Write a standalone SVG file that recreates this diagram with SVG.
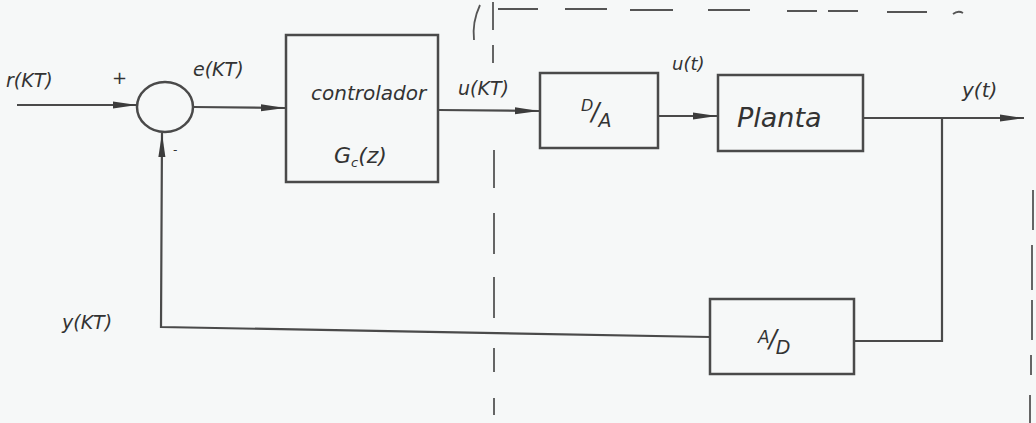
<svg xmlns="http://www.w3.org/2000/svg" width="1036" height="423" viewBox="0 0 1036 423">
<style>
.bg{fill:#f6f8f8}
.box{fill:none;stroke:#4a4a4a;stroke-width:2.5}
.ln{fill:none;stroke:#4a4a4a;stroke-width:2.2}
.dash{fill:none;stroke:#555;stroke-width:1.8}
.t{font-family:"DejaVu Sans",sans-serif;font-style:italic;fill:#333;font-weight:300}
</style>
<defs>
<marker id="ah" viewBox="0 0 24 10" refX="24" refY="5" markerWidth="24" markerHeight="10" markerUnits="userSpaceOnUse" orient="auto">
<path d="M0,1.5 L24,5 L0,8.5 Z" fill="#3c3c3c"/>
</marker>
</defs>
<rect class="bg" x="0" y="0" width="1036" height="423"/>
<g id="boundary">
<path class="dash" d="M493,2 V30 M493,45 V63 M494,150 V188 M494,213 V254 M494,277 V318 M494,348 V372 M494,398 V415"/>
<path class="dash" d="M498,9 H538 M565,9 H607 M630,10 H673 M708,10 H750 M787,11 H817 M828,11 H858 M887,12 H927 M953,14 Q958,10 963,13"/>
<path class="dash" d="M480,5 Q472,22 474,40"/>
<path class="dash" d="M1033,190 V230 M1032,245 V290 M1032,300 V340 M1031,355 V375 M1030,395 V423"/>
</g>
<g id="connectors">
<line class="ln" x1="17" y1="105" x2="137" y2="105" marker-end="url(#ah)"/>
<line class="ln" x1="193" y1="107" x2="285" y2="108" marker-end="url(#ah)"/>
<line class="ln" x1="438" y1="110" x2="539" y2="111" marker-end="url(#ah)"/>
<line class="ln" x1="658" y1="116" x2="717" y2="116" marker-end="url(#ah)"/>
<line class="ln" x1="863" y1="118" x2="1024" y2="118" marker-end="url(#ah)"/>
<polyline class="ln" points="942,118 942,341 855,341"/>
<polyline class="ln" points="710,337 161,327 162,133" marker-end="url(#ah)"/>
</g>
<g id="sum">
<ellipse class="box" cx="165" cy="107" rx="28" ry="25"/>
<text class="t" x="112" y="84" font-size="18">+</text>
<text class="t" x="173" y="154" font-size="12">-</text>
</g>
<g id="controlador">
<rect class="box" x="286" y="35" width="152" height="147"/>
<text class="t" x="311" y="100" font-size="20">controlador</text>
<text class="t" x="334" y="163" font-size="22">G<tspan font-size="13" dy="4">c</tspan><tspan dy="-4">(z)</tspan></text>
</g>
<g id="da">
<rect class="box" x="540" y="73" width="118" height="75"/>
<text class="t" x="581" y="111"><tspan font-size="16">D</tspan><tspan font-size="24" dy="9" dx="-2">/</tspan><tspan font-size="19" dy="7" dx="-1">A</tspan></text>
</g>
<g id="planta">
<rect class="box" x="718" y="75" width="145" height="76"/>
<text class="t" x="737" y="127" font-size="27">Planta</text>
</g>
<g id="ad">
<rect class="box" x="710" y="299" width="144" height="75"/>
<text class="t" x="758" y="343"><tspan font-size="17">A</tspan><tspan font-size="24" dy="4" dx="-1">/</tspan><tspan font-size="19" dy="7" dx="-1">D</tspan></text>
</g>
<g id="labels">
<text class="t" x="6" y="87" font-size="19">r(KT)</text>
<text class="t" x="193" y="76" font-size="19">e(KT)</text>
<text class="t" x="458" y="95" font-size="19">u(KT)</text>
<text class="t" x="672" y="70" font-size="18">u(t)</text>
<text class="t" x="962" y="97" font-size="20">y(t)</text>
<text class="t" x="62" y="329" font-size="19">y(KT)</text>
</g>
</svg>
